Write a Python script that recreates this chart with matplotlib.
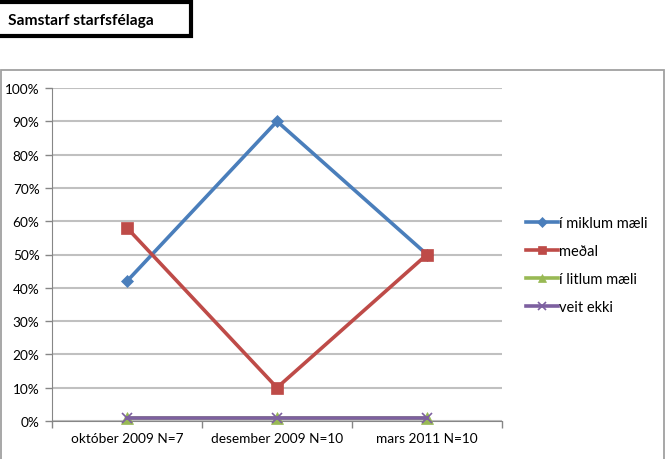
import matplotlib
matplotlib.use("Agg")
import matplotlib.pyplot as plt
from matplotlib.patches import Rectangle

categories = ["október 2009 N=7", "desember 2009 N=10", "mars 2011 N=10"]
series_names = ["í miklum mæli", "meðal", "í litlum mæli", "veit ekki"]
miklum = [42, 90, 50]
medal = [58, 10, 50]
litlum = [1, 1, 1]
veit_ekki = [1, 1, 1]
yticks = [0, 10, 20, 30, 40, 50, 60, 70, 80, 90, 100]
title = "Samstarf starfsfélaga"

plt.rcParams['font.family'] = ['Lato', 'DejaVu Sans']

W, H = 672, 460
fig = plt.figure(figsize=(W / 100, H / 100), dpi=100)

# axes: x 52..502, y 89..422 (pixels from top)
ax = fig.add_axes([52 / W, 1 - 422 / H, 450 / W, 333 / H])
x = list(range(len(categories)))

styles = [
    (miklum, "#4a7ebb", "D", 6),
    (medal, "#be4b48", "s", 8),
    (litlum, "#98b954", "^", 8),
    (veit_ekki, "#7d60a0", "x", 7),
]
for (vals, col, mk, ms), name in zip(styles, series_names):
    ax.plot(x, vals, color=col, lw=2.6, marker=mk, markersize=ms,
            markeredgewidth=1.2 if mk == "x" else 0.5, markeredgecolor=col,
            markerfacecolor=col, label=name, clip_on=False, zorder=3)

ax.set_xlim(-0.5, 2.5)
ax.set_ylim(0, 100)
ax.set_yticks(yticks)
ax.set_yticklabels([f"{v}%" for v in yticks], fontsize=9.8)
ax.set_xticks(x)
ax.set_xticklabels(categories, fontsize=9.8)
ax.set_xticks([-0.5, 0.5, 1.5, 2.5], minor=True)
ax.tick_params(axis='x', which='major', length=0, pad=8)
ax.tick_params(axis='x', which='minor', length=5, color="#868686", width=1)
ax.tick_params(axis='y', length=5, color="#868686", width=1, pad=4)
ax.grid(axis='y', color="#c0c0c0", lw=1.5, zorder=0)
ax.set_axisbelow(True)
for s in ["top", "right"]:
    ax.spines[s].set_visible(False)
ax.spines["left"].set_color("#868686")
ax.spines["bottom"].set_color("#868686")

ax.legend(loc="center left", bbox_to_anchor=(520 / W, 1 - 266 / H),
          bbox_transform=fig.transFigure, frameon=False, fontsize=10.5,
          handlelength=2.2, handletextpad=0.1, labelspacing=0.95,
          borderaxespad=0, markerscale=0.8)

# outer chart frame
fig.add_artist(Rectangle((0.5 / W, -0.05), 663 / W, (1 - 71 / H) + 0.05,
                         transform=fig.transFigure, fill=False,
                         edgecolor="#a0a0a0", lw=1.3, clip_on=False))
# title box
fig.add_artist(Rectangle((-5 / W, 1 - 37 / H), 196 / W, 34 / H,
                         transform=fig.transFigure, fill=False,
                         edgecolor="black", lw=3, clip_on=False))
fig.text(8 / W, 1 - 21 / H, title, fontsize=11.2, fontweight="bold",
         va="center", ha="left")

fig.savefig("out.png", dpi=100)
